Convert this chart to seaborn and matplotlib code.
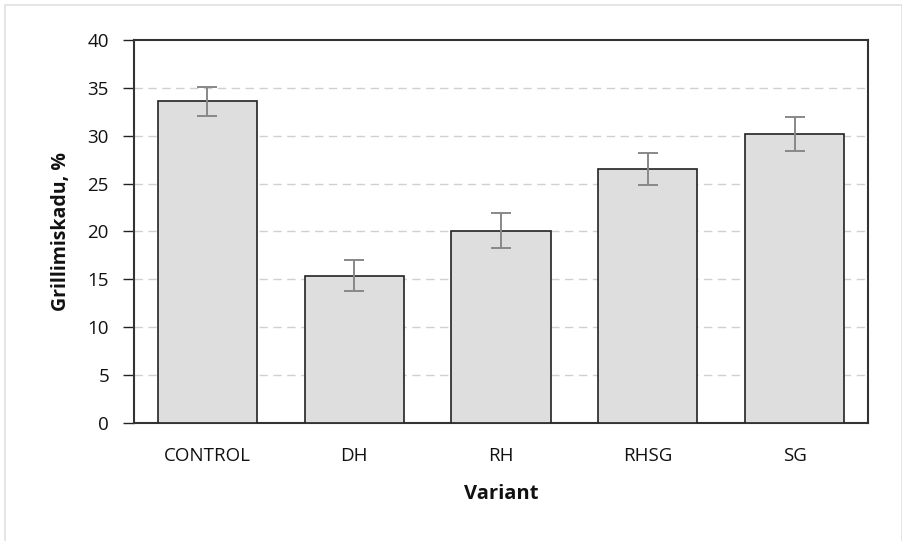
import matplotlib
matplotlib.use("Agg")
import matplotlib.pyplot as plt
import seaborn as sns
import pandas as pd
import numpy as np
from matplotlib.patches import Rectangle

categories = ["CONTROL", "DH", "RH", "RHSG", "SG"]
values = [33.6, 15.4, 20.1, 26.5, 30.2]
errors = [1.5, 1.65, 1.8, 1.65, 1.8]
yticks = [0, 5, 10, 15, 20, 25, 30, 35, 40]

sns.set_theme(style="white")
plt.rcParams['font.family'] = ['Open Sans', 'DejaVu Sans']

df = pd.DataFrame({"Variant": categories, "Value": values})

fig = plt.figure(figsize=(9.03, 5.41), dpi=100)
ax = fig.add_axes([134/903, 1-423/541, (868-134)/903, (423-40)/541])

sns.barplot(data=df, x="Variant", y="Value", ax=ax, color="#dedede",
            edgecolor="#222222", linewidth=1.2, width=0.675, errorbar=None, zorder=3)
ax.errorbar(np.arange(len(categories)), values, yerr=errors, fmt="none",
            ecolor="#888888", elinewidth=1.4, capsize=7, capthick=1.4, zorder=4)

ax.set_ylim(0, 40)
ax.set_xlim(-0.5, len(categories) - 0.5)
ax.set_yticks(yticks)
ax.set_yticklabels([str(t) for t in yticks], fontsize=13.5, color="#111111")
ax.tick_params(axis="x", which="major", length=0, labelsize=13.5, pad=17, colors="#111111")
ax.set_xticks(np.arange(-0.5, len(categories) - 0.4, 1), minor=True)
ax.tick_params(axis="x", which="minor", length=6, width=1, direction="inout", color="#222222")
ax.tick_params(axis="y", length=8, width=1, direction="out", color="#222222", pad=10, left=True)
for t in ax.get_xticklabels():
    t.set_color("#111111")

for y in yticks[1:-1]:
    ax.axhline(y, color="#d0d0d0", linestyle=(0, (6, 4)), linewidth=1, zorder=1)

for s in ax.spines.values():
    s.set_visible(True)
    s.set_color("#333333")
    s.set_linewidth(1.5)

ax.set_xlabel("Variant", fontsize=14.5, fontweight="bold", labelpad=14, color="#111111")
ax.set_ylabel("Grillimiskadu, %", fontsize=14, fontweight="bold", labelpad=12, color="#111111")

fig.patches.append(Rectangle((5/903, -0.1), (902-5)/903, 1.1 - 5/541, transform=fig.transFigure,
                             fill=False, edgecolor="#e0e0e0", linewidth=1.2))

fig.savefig("out.png", dpi=100)
